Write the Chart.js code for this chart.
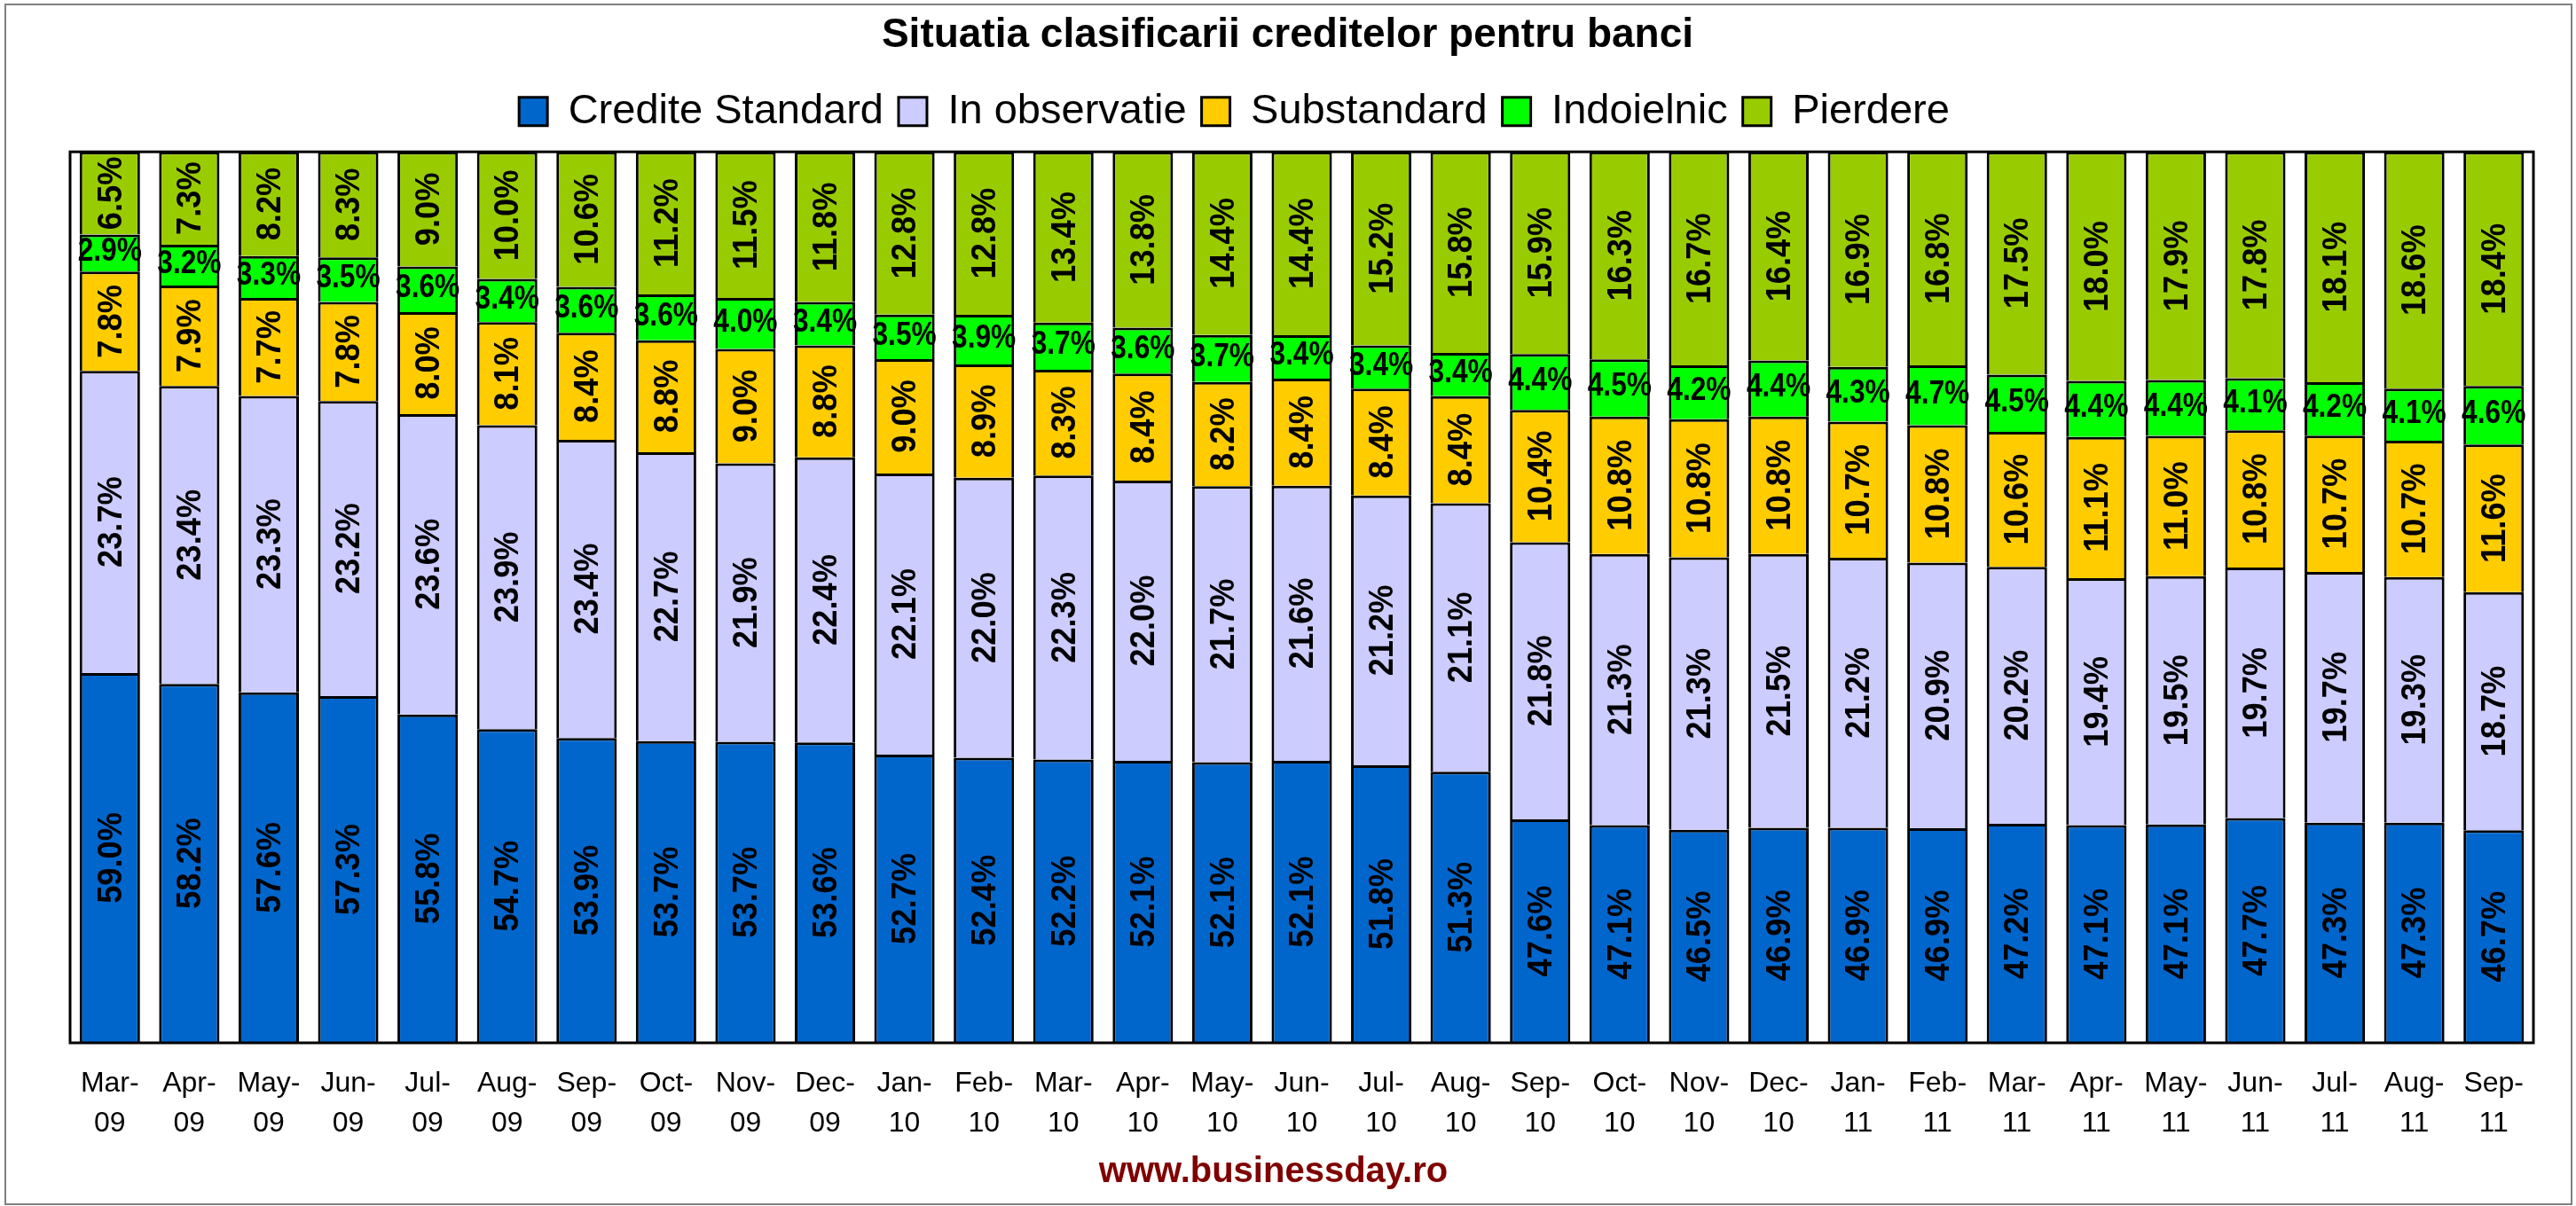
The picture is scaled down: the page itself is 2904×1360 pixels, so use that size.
<!DOCTYPE html>
<html>
<head>
<meta charset="utf-8">
<title>Situatia clasificarii creditelor pentru banci</title>
<script src="https://cdn.jsdelivr.net/npm/chart.js@4.4.0/dist/chart.umd.min.js"></script>
<style>
  body { margin: 0; background: #fff; }
  canvas { display: block; }
</style>
</head>
<body>
<canvas id="bar-chart" width="2904" height="1360"></canvas>
<script>
// months on the x axis, two lines each
let months = [
  ['Mar-', '09'], ['Apr-', '09'], ['May-', '09'], ['Jun-', '09'], ['Jul-', '09'],
  ['Aug-', '09'], ['Sep-', '09'], ['Oct-', '09'], ['Nov-', '09'], ['Dec-', '09'],
  ['Jan-', '10'], ['Feb-', '10'], ['Mar-', '10'], ['Apr-', '10'], ['May-', '10'],
  ['Jun-', '10'], ['Jul-', '10'], ['Aug-', '10'], ['Sep-', '10'], ['Oct-', '10'],
  ['Nov-', '10'], ['Dec-', '10'], ['Jan-', '11'], ['Feb-', '11'], ['Mar-', '11'],
  ['Apr-', '11'], ['May-', '11'], ['Jun-', '11'], ['Jul-', '11'], ['Aug-', '11'],
  ['Sep-', '11'],
];

let crediteStandard = [59.0, 58.2, 57.6, 57.3, 55.8, 54.7, 53.9, 53.7, 53.7, 53.6,
  52.7, 52.4, 52.2, 52.1, 52.1, 52.1, 51.8, 51.3, 47.6, 47.1, 46.5, 46.9,
  46.9, 46.9, 47.2, 47.1, 47.1, 47.7, 47.3, 47.3, 46.7];
let inObservatie = [23.7, 23.4, 23.3, 23.2, 23.6, 23.9, 23.4, 22.7, 21.9, 22.4,
  22.1, 22.0, 22.3, 22.0, 21.7, 21.6, 21.2, 21.1, 21.8, 21.3, 21.3, 21.5,
  21.2, 20.9, 20.2, 19.4, 19.5, 19.7, 19.7, 19.3, 18.7];
let substandard = [7.8, 7.9, 7.7, 7.8, 8.0, 8.1, 8.4, 8.8, 9.0, 8.8,
  9.0, 8.9, 8.3, 8.4, 8.2, 8.4, 8.4, 8.4, 10.4, 10.8, 10.8, 10.8,
  10.7, 10.8, 10.6, 11.1, 11.0, 10.8, 10.7, 10.7, 11.6];
let indoielnic = [2.9, 3.2, 3.3, 3.5, 3.6, 3.4, 3.6, 3.6, 4.0, 3.4,
  3.5, 3.9, 3.7, 3.6, 3.7, 3.4, 3.4, 3.4, 4.4, 4.5, 4.2, 4.4,
  4.3, 4.7, 4.5, 4.4, 4.4, 4.1, 4.2, 4.1, 4.6];
let pierdere = [6.5, 7.3, 8.2, 8.3, 9.0, 10.0, 10.6, 11.2, 11.5, 11.8,
  12.8, 12.8, 13.4, 13.8, 14.4, 14.4, 15.2, 15.8, 15.9, 16.3, 16.7, 16.4,
  16.9, 16.8, 17.5, 18.0, 17.9, 17.8, 18.1, 18.6, 18.4];

let seriesNames = ['Credite Standard', 'In observatie', 'Substandard', 'Indoielnic', 'Pierdere'];
let seriesColors = ['#0066CC', '#CCCCFF', '#FFCC00', '#00FF00', '#99CC00'];
let seriesValues = [crediteStandard, inObservatie, substandard, indoielnic, pierdere];

let fontName = '"Liberation Sans", Arial, sans-serif';

// white page, grey outer frame
let background = {
  id: 'background',
  beforeDraw(chart) {
    let ctx = chart.ctx;
    ctx.save();
    ctx.fillStyle = '#fff';
    ctx.fillRect(0, 0, chart.width, chart.height);
    ctx.strokeStyle = '#808080';
    ctx.lineWidth = 2;
    ctx.strokeRect(6, 5, chart.width - 11, chart.height - 7);
    ctx.restore();
  }
};

// extra room under the legend and small horizontal nudges of the text blocks
let layoutTweaks = {
  id: 'layoutTweaks',
  beforeInit(chart) {
    let fit = chart.legend.fit;
    chart.legend.fit = function() {
      fit.bind(chart.legend)();
      this.height += 12;
    };
  },
  afterLayout(chart) {
    chart.boxes.forEach(box => {
      if (box === chart.legend) {
        box.left -= 76;
        box.right -= 76;
      } else if (box === chart.titleBlock) {
        box.left -= 16;
        box.right -= 16;
      } else if (box.options && box.options.text === 'www.businessday.ro') {
        box.left -= 32;
        box.right -= 32;
      }
    });
  }
};

// plot frame and the percentages inside the bars (raw values, not the 100% shares)
let barLabels = {
  id: 'barLabels',
  afterDatasetsDraw(chart) {
    let ctx = chart.ctx;
    let area = chart.chartArea;
    ctx.save();
    ctx.strokeStyle = '#000';
    ctx.lineWidth = 3;
    ctx.strokeRect(area.left, area.top, area.right - area.left, area.bottom - area.top);

    ctx.fillStyle = '#000';
    ctx.textAlign = 'center';
    ctx.textBaseline = 'middle';
    chart.data.datasets.forEach((dataset, i) => {
      let meta = chart.getDatasetMeta(i);
      meta.data.forEach((bar, j) => {
        let top = Math.max(Math.min(bar.y, bar.base), area.top);
        let bottom = Math.min(Math.max(bar.y, bar.base), area.bottom);
        let mid = (top + bottom) / 2;
        let text = seriesValues[i][j].toFixed(1) + '%';
        ctx.save();
        if (i == 3) {
          ctx.translate(bar.x, mid - 1);
          ctx.scale(0.88, 1);
          ctx.font = 'bold 36px ' + fontName;
          ctx.fillText(text, 0, 0);
        } else {
          ctx.translate(bar.x, mid);
          ctx.rotate(-Math.PI / 2);
          ctx.scale(0.93, 1);
          ctx.font = 'bold 39px ' + fontName;
          ctx.fillText(text, 0, 2);
        }
        ctx.restore();
      });
    });
    ctx.restore();
  }
};

function buildChart() {
  // 100% stacked columns: each month is scaled to a full column
  let totals = months.map((m, j) => seriesValues.reduce((acc, s) => acc + s[j], 0));

  let datasets = seriesNames.map((name, i) => {
    return {
      label: name,
      data: seriesValues[i].map((v, j) => v / totals[j] * 100),
      backgroundColor: seriesColors[i],
      borderColor: '#000',
      borderWidth: 3,
      barPercentage: 0.76,
      categoryPercentage: 1,
    };
  });

  new Chart(document.getElementById('bar-chart'), {
    type: 'bar',
    data: {
      labels: months,
      datasets: datasets,
    },
    options: {
      responsive: false,
      animation: false,
      devicePixelRatio: 1,
      layout: {
        padding: { left: 79, right: 48, top: 0, bottom: 0 },
      },
      scales: {
        x: {
          stacked: true,
          grid: { display: false, drawTicks: false },
          border: { display: false },
          ticks: {
            color: '#000',
            font: { family: fontName, size: 32, lineHeight: 1.4 },
            padding: 24,
            autoSkip: false,
            maxRotation: 0,
          },
          afterFit(scale) {
            scale.height = 120;
          },
        },
        y: {
          stacked: true,
          display: false,
          min: 30,
          max: 100,
        },
      },
      plugins: {
        title: {
          display: true,
          text: 'Situatia clasificarii creditelor pentru banci',
          color: '#000',
          font: { family: fontName, size: 46, weight: 'bold', lineHeight: 1.2 },
          padding: { top: 13, bottom: 17 },
        },
        subtitle: {
          display: true,
          position: 'bottom',
          text: 'www.businessday.ro',
          color: '#800000',
          font: { family: fontName, size: 40, weight: 'bold', lineHeight: 1.2 },
          padding: { top: 2, bottom: 14 },
        },
        legend: {
          display: true,
          position: 'top',
          labels: {
            color: '#000',
            font: { family: fontName, size: 47 },
            boxWidth: 32,
            boxHeight: 32,
            padding: 17,
          },
        },
        tooltip: { enabled: false },
      },
    },
    plugins: [background, layoutTweaks, barLabels],
  });
}

buildChart();
</script>
</body>
</html>
